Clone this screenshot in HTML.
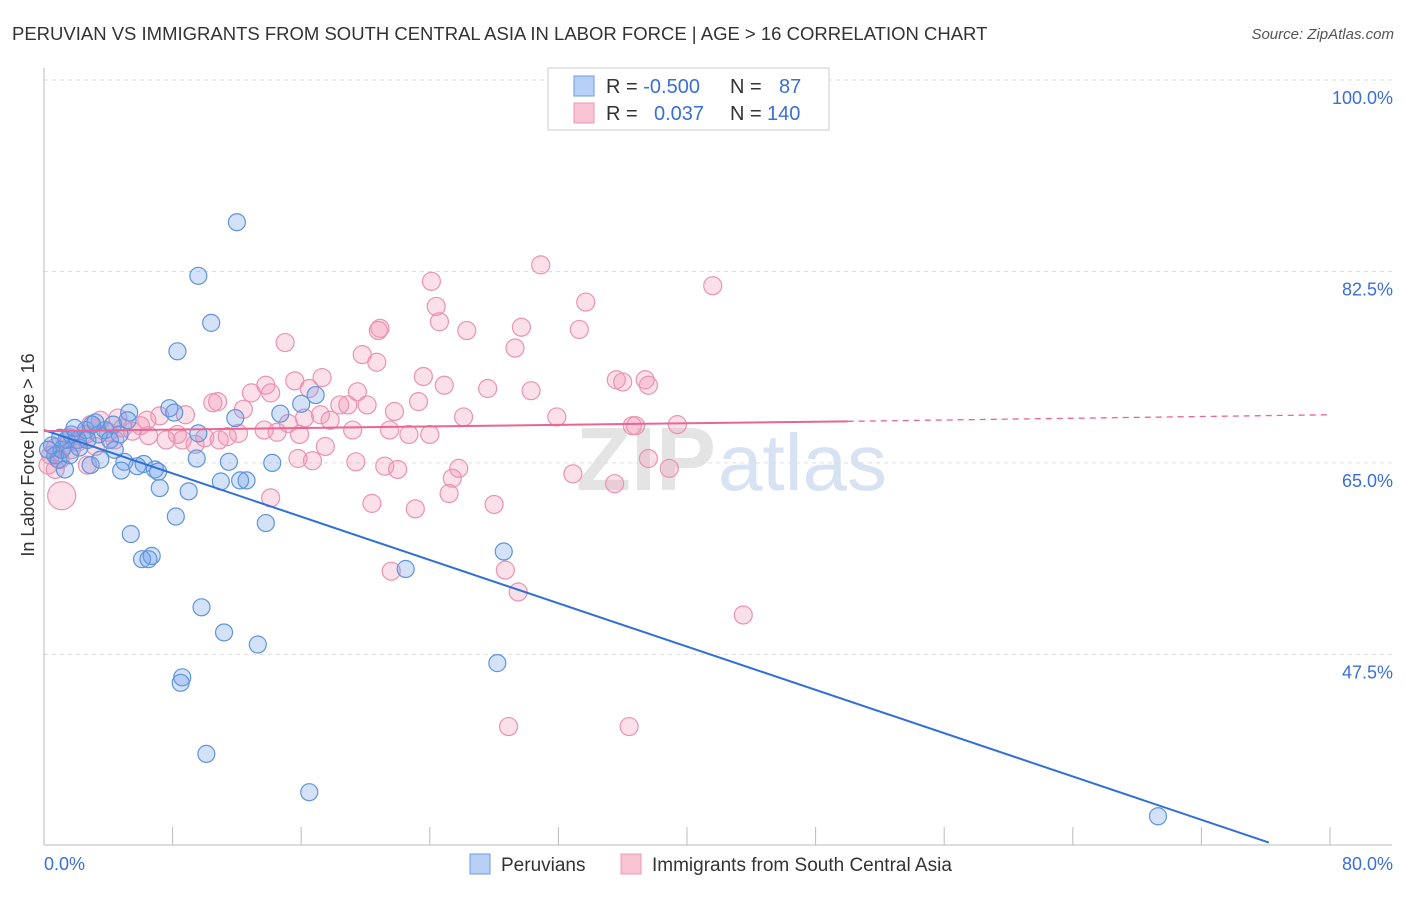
<!DOCTYPE html>
<html><head><meta charset="utf-8"><style>
body{margin:0;background:#fff;font-family:"Liberation Sans",sans-serif;}
svg text{font-family:"Liberation Sans",sans-serif;}
</style></head><body>
<svg id="chart" width="1406" height="892" xmlns="http://www.w3.org/2000/svg">
<text x="12" y="40" font-size="18.5" fill="#333">PERUVIAN VS IMMIGRANTS FROM SOUTH CENTRAL ASIA IN LABOR FORCE | AGE &gt; 16 CORRELATION CHART</text>
<text x="1394" y="39" font-size="15" fill="#555" font-style="italic" text-anchor="end">Source: ZipAtlas.com</text>
<text x="716" y="490" font-size="90" fill="#e4e4e4" font-weight="bold" text-anchor="end">ZIP</text>
<text x="718" y="490" font-size="80" fill="#d7e3f3">atlas</text>
<g id="grid"></g><g id="axes"></g><g id="pink"></g><g id="blue"></g><g id="lines"></g>
<text transform="translate(34,455) rotate(-90)" font-size="18" fill="#333" text-anchor="middle">In Labor Force | Age &gt; 16</text>
<text x="44" y="870" font-size="18" fill="#3a6fd8">0.0%</text>
<text x="1393" y="870" font-size="18" fill="#3a6fd8" text-anchor="end">80.0%</text>
<g>
<rect x="548" y="68" width="281" height="62" fill="#fff" stroke="#ccc"/>
<rect x="574" y="76" width="20" height="20" fill="#b8d0f5" stroke="#6f9ae0"/>
<rect x="574" y="103" width="20" height="20" fill="#f8c4d4" stroke="#ec97b4"/>
<text x="606" y="93" font-size="20" fill="#333">R = <tspan fill="#3a6fd8">-0.500</tspan><tspan x="730">N = </tspan><tspan x="779" fill="#3a6fd8">87</tspan></text>
<text x="606" y="120" font-size="20" fill="#333">R = <tspan x="654" fill="#3a6fd8">0.037</tspan><tspan x="730">N = </tspan><tspan x="767" fill="#3a6fd8">140</tspan></text>
</g>
<g>
<rect x="470" y="854" width="20" height="20" fill="#b8d0f5" stroke="#6f9ae0"/>
<text x="501" y="871" font-size="19" fill="#333">Peruvians</text>
<rect x="621" y="854" width="20" height="20" fill="#f8c4d4" stroke="#ec97b4"/>
<text x="652" y="871" font-size="19" fill="#333">Immigrants from South Central Asia</text>
</g>
</svg>
<script>
const yTicks=[100,82.5,65,47.5];
const yTickLabels=["100.0%","82.5%","65.0%","47.5%"];
const xTicks=[0,8,16,24,32,40,48,56,64,72,80];
const blueX=[12.0,9.6,10.4,8.3,16.9,16.0,14.7,11.9,7.8,8.1,5.3,5.2,9.6,11.5,9.5,14.2,12.6,12.2,11.0,9.0,7.2,6.9,6.2,7.1,5.0,5.8,4.8,2.9,8.2,5.4,6.1,6.7,6.5,13.8,9.8,11.2,13.3,8.6,8.5,10.1,16.5,22.5,28.6,28.2,69.3,0.5,0.7,0.9,1.1,1.4,1.7,2.1,2.6,3.0,3.4,3.8,4.1,4.4,3.5,2.2,1.6,1.0,0.25,2.7,4.3,4.7,3.2,1.9,1.3];
const blueY=[87.0,82.1,77.8,75.2,71.2,70.4,69.5,69.1,70.0,69.6,69.6,68.9,67.7,65.1,65.4,65.0,63.4,63.4,63.3,62.4,62.7,64.4,64.9,64.2,65.1,64.7,64.3,64.8,60.1,58.5,56.2,56.5,56.2,59.5,51.8,49.5,48.4,45.4,44.9,38.4,34.9,55.3,56.9,46.7,32.7,66.6,65.7,65.3,66.2,67.1,67.6,67.1,68.0,68.5,67.6,68.0,67.1,66.2,65.3,66.4,65.7,67.3,66.2,67.1,68.5,67.6,68.7,68.2,64.4];
const pinkX=[30.9,41.6,24.1,33.7,24.4,24.6,20.9,20.8,26.3,29.7,33.3,15.0,29.3,19.8,20.7,23.6,24.9,27.6,30.3,35.6,36.0,37.4,37.6,15.6,13.8,16.5,17.3,19.5,12.9,14.1,18.9,18.4,20.1,21.8,23.3,26.1,31.9,36.6,36.8,39.4,10.5,10.8,12.4,8.8,7.2,6.4,17.2,17.8,16.2,15.2,13.7,14.5,12.1,11.4,10.9,10.0,9.4,8.6,8.3,7.6,6.5,5.5,19.2,21.5,22.7,24.0,15.9,17.5,15.8,16.7,19.4,21.2,22.0,25.8,25.4,37.6,38.9,32.9,35.5,25.2,28.0,20.4,23.1,14.1,21.6,28.7,29.5,43.5,28.9,36.4,1.1,0.4,0.7,1.0,1.3,1.6,2.1,2.6,2.9,3.5,4.0,4.4,4.9,0.7,0.25,1.7,3.2,4.6,6.0,2.7];
const pinkY=[83.1,81.2,81.6,79.7,79.3,77.9,77.3,77.1,77.1,77.4,77.2,76.0,75.5,74.9,74.2,72.9,72.1,71.8,71.6,72.6,72.4,72.6,72.1,72.5,72.1,71.8,72.8,71.5,71.4,71.4,70.3,70.3,70.3,69.7,70.6,69.2,69.2,68.4,68.4,68.5,70.5,70.6,69.9,69.4,69.3,68.9,69.4,68.9,69.1,68.6,68.0,67.8,67.7,67.4,67.1,67.3,66.7,67.1,67.6,67.1,67.5,67.9,68.0,68.0,67.6,67.6,67.6,66.5,65.4,65.2,65.1,64.7,64.4,64.5,63.6,65.4,64.5,64.0,63.1,62.2,61.2,61.3,60.8,61.8,55.1,55.2,53.2,51.1,40.9,40.9,62.0,65.7,66.4,65.3,66.6,67.3,66.9,67.6,68.5,68.9,67.8,67.1,68.2,64.4,64.8,66.2,66.5,69.1,68.4,64.8];
const blueTrend=[68.0,30.3];const blueTrendX=[0,76.2];
const pinkTrend=[67.9,68.8,69.4];const pinkTrendX=[0,50,80];
const NS="http://www.w3.org/2000/svg";
const xs=v=>44+v*(1286/80);
const ys=v=>80+(100-v)*10.94;
function mk(tag,attrs,parent){const e=document.createElementNS(NS,tag);for(const k in attrs)e.setAttribute(k,attrs[k]);document.getElementById(parent).appendChild(e);return e;}
yTicks.forEach((t,i)=>{
 const l=mk('line',{x1:44,x2:1392,y1:ys(t),y2:ys(t),stroke:'#ddd','stroke-dasharray':'4,4'},'grid');
 
 
 const tx=mk('text',{x:1393,y:ys(t)+24,'font-size':18,fill:'#3a6fd8','text-anchor':'end'},'grid');
 tx.textContent=yTickLabels[i];
 
 
});
const ax=mk('line',{x1:44,x2:44,y1:68,y2:845,stroke:'#bbb'},'axes');


const bx=mk('line',{x1:44,x2:1392,y1:845,y2:845,stroke:'#bbb'},'axes');


xTicks.forEach(t=>{const k=mk('line',{x1:xs(t),x2:xs(t),y1:827,y2:845,stroke:'#bbb'},'axes');
 
 });
pinkX.forEach((x,i)=>{const c=mk('circle',{cx:xs(x),cy:ys(pinkY[i]),r:(i==90?14:9),fill:'rgba(242,150,182,0.3)',stroke:'#ea93b2','stroke-width':1.2},'pink');
 
 });
blueX.forEach((x,i)=>{const c=mk('circle',{cx:xs(x),cy:ys(blueY[i]),r:8.5,fill:'rgba(110,160,235,0.3)',stroke:'#5f94dc','stroke-width':1.2},'blue');
 
 });
const bl=mk('line',{x1:xs(blueTrendX[0]),y1:ys(blueTrend[0]),x2:xs(blueTrendX[1]),y2:ys(blueTrend[1]),stroke:'#2f6fd6','stroke-width':2},'lines');


const pl=mk('line',{x1:xs(pinkTrendX[0]),y1:ys(pinkTrend[0]),x2:xs(pinkTrendX[1]),y2:ys(pinkTrend[1]),stroke:'#e8668f','stroke-width':2},'lines');


const pd=mk('line',{x1:xs(pinkTrendX[1]),y1:ys(pinkTrend[1]),x2:xs(pinkTrendX[2]),y2:ys(pinkTrend[2]),stroke:'#e8668f','stroke-width':1.3,'stroke-dasharray':'6,5'},'lines');


</script>
</body></html>
